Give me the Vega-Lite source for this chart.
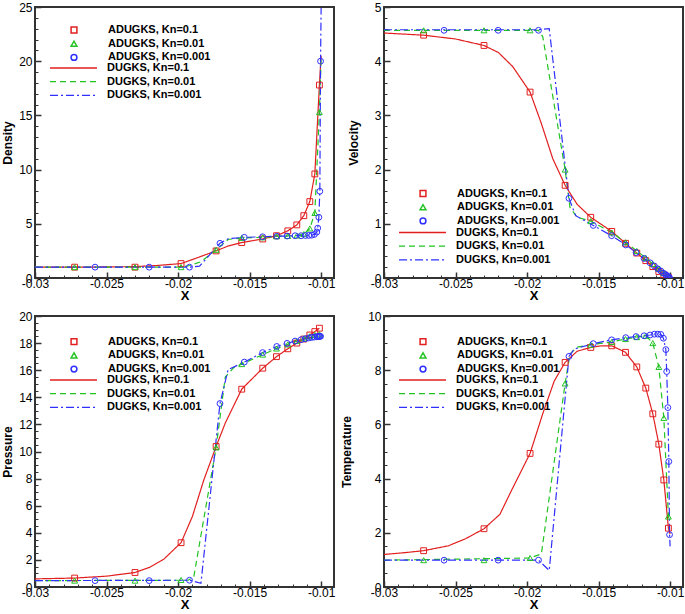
{
"$schema": "https://vega.github.io/schema/vega-lite/v6.json",
"background": "white",
"padding": {"left": 0, "top": 0, "right": 0, "bottom": 0},
"datasets": {
"dP": [
{"k":"0.1","x":-0.02723,"y":1.0},{"k":"0.1","x":-0.02301,"y":1.0},{"k":"0.1","x":-0.01979,"y":1.33},{"k":"0.1","x":-0.01734,"y":2.5},{"k":"0.1","x":-0.01555,"y":3.27},{"k":"0.1","x":-0.01408,"y":3.6},{"k":"0.1","x":-0.01312,"y":3.9},{"k":"0.1","x":-0.01233,"y":4.35},{"k":"0.1","x":-0.0117,"y":4.9},{"k":"0.1","x":-0.01121,"y":5.75},{"k":"0.1","x":-0.01079,"y":7.05},{"k":"0.1","x":-0.01044,"y":9.6},{"k":"0.1","x":-0.01012,"y":17.8},
{"k":"0.01","x":-0.02723,"y":1.0},{"k":"0.01","x":-0.02301,"y":1.0},{"k":"0.01","x":-0.01979,"y":1.0},{"k":"0.01","x":-0.01734,"y":2.6},{"k":"0.01","x":-0.01555,"y":3.7},{"k":"0.01","x":-0.01408,"y":3.75},{"k":"0.01","x":-0.01312,"y":3.85},{"k":"0.01","x":-0.01233,"y":3.88},{"k":"0.01","x":-0.0117,"y":3.92},{"k":"0.01","x":-0.01121,"y":4.05},{"k":"0.01","x":-0.01079,"y":4.57},{"k":"0.01","x":-0.01044,"y":6.0},{"k":"0.01","x":-0.01012,"y":15.3},
{"k":"0.001","x":-0.0258,"y":1.0},{"k":"0.001","x":-0.02202,"y":1.0},{"k":"0.001","x":-0.0192,"y":1.0},{"k":"0.001","x":-0.01707,"y":3.2},{"k":"0.001","x":-0.01537,"y":3.75},{"k":"0.001","x":-0.01409,"y":3.8},{"k":"0.001","x":-0.0131,"y":3.85},{"k":"0.001","x":-0.01238,"y":3.87},{"k":"0.001","x":-0.01182,"y":3.9},{"k":"0.001","x":-0.0114,"y":3.9},{"k":"0.001","x":-0.0111,"y":3.92},{"k":"0.001","x":-0.01086,"y":3.93},{"k":"0.001","x":-0.01065,"y":3.95},{"k":"0.001","x":-0.01047,"y":4.02},{"k":"0.001","x":-0.0103,"y":4.24},{"k":"0.001","x":-0.01024,"y":4.6},{"k":"0.001","x":-0.01016,"y":5.6},{"k":"0.001","x":-0.01009,"y":8.0},{"k":"0.001","x":-0.01004,"y":20.0}
],
"dL": [
{"k":"0.1","x":-0.03,"y":1.0},{"k":"0.1","x":-0.02723,"y":1.0},{"k":"0.1","x":-0.025,"y":1.02},{"k":"0.1","x":-0.02301,"y":1.05},{"k":"0.1","x":-0.0215,"y":1.15},{"k":"0.1","x":-0.01979,"y":1.33},{"k":"0.1","x":-0.0188,"y":1.8},{"k":"0.1","x":-0.01734,"y":2.5},{"k":"0.1","x":-0.0165,"y":2.95},{"k":"0.1","x":-0.01555,"y":3.27},{"k":"0.1","x":-0.01408,"y":3.6},{"k":"0.1","x":-0.01312,"y":3.9},{"k":"0.1","x":-0.01233,"y":4.35},{"k":"0.1","x":-0.0117,"y":4.9},{"k":"0.1","x":-0.01121,"y":5.75},{"k":"0.1","x":-0.01079,"y":7.05},{"k":"0.1","x":-0.01044,"y":9.6},{"k":"0.1","x":-0.01012,"y":17.8},{"k":"0.1","x":-0.01,"y":20.5},
{"k":"0.01","x":-0.03,"y":1.0},{"k":"0.01","x":-0.0198,"y":1.0},{"k":"0.01","x":-0.0192,"y":1.15},{"k":"0.01","x":-0.0184,"y":1.5},{"k":"0.01","x":-0.01734,"y":2.6},{"k":"0.01","x":-0.0165,"y":3.55},{"k":"0.01","x":-0.01555,"y":3.7},{"k":"0.01","x":-0.01408,"y":3.75},{"k":"0.01","x":-0.01312,"y":3.85},{"k":"0.01","x":-0.01233,"y":3.88},{"k":"0.01","x":-0.0117,"y":3.92},{"k":"0.01","x":-0.01121,"y":4.05},{"k":"0.01","x":-0.01079,"y":4.57},{"k":"0.01","x":-0.01044,"y":6.0},{"k":"0.01","x":-0.01012,"y":15.3},{"k":"0.01","x":-0.01,"y":20.3},
{"k":"0.001","x":-0.03,"y":1.0},{"k":"0.001","x":-0.0192,"y":1.0},{"k":"0.001","x":-0.0185,"y":1.1},{"k":"0.001","x":-0.01707,"y":3.2},{"k":"0.001","x":-0.0165,"y":3.62},{"k":"0.001","x":-0.01537,"y":3.75},{"k":"0.001","x":-0.01409,"y":3.8},{"k":"0.001","x":-0.0131,"y":3.85},{"k":"0.001","x":-0.01238,"y":3.87},{"k":"0.001","x":-0.01182,"y":3.9},{"k":"0.001","x":-0.0114,"y":3.9},{"k":"0.001","x":-0.0111,"y":3.92},{"k":"0.001","x":-0.01086,"y":3.93},{"k":"0.001","x":-0.01065,"y":3.95},{"k":"0.001","x":-0.01047,"y":4.02},{"k":"0.001","x":-0.0103,"y":4.24},{"k":"0.001","x":-0.01024,"y":4.6},{"k":"0.001","x":-0.01016,"y":5.6},{"k":"0.001","x":-0.01009,"y":8.0},{"k":"0.001","x":-0.01004,"y":20.0},{"k":"0.001","x":-0.01,"y":24.9}
],
"vP": [
{"k":"0.1","x":-0.02723,"y":4.48},{"k":"0.1","x":-0.02301,"y":4.29},{"k":"0.1","x":-0.01979,"y":3.43},{"k":"0.1","x":-0.01734,"y":1.71},{"k":"0.1","x":-0.01555,"y":1.12},{"k":"0.1","x":-0.01408,"y":0.86},{"k":"0.1","x":-0.01312,"y":0.64},{"k":"0.1","x":-0.01233,"y":0.46},{"k":"0.1","x":-0.0117,"y":0.32},{"k":"0.1","x":-0.01121,"y":0.21},{"k":"0.1","x":-0.01079,"y":0.12},{"k":"0.1","x":-0.01044,"y":0.06},{"k":"0.1","x":-0.01012,"y":0.01},
{"k":"0.01","x":-0.02723,"y":4.57},{"k":"0.01","x":-0.02301,"y":4.57},{"k":"0.01","x":-0.01979,"y":4.57},{"k":"0.01","x":-0.01734,"y":2.0},{"k":"0.01","x":-0.01555,"y":1.05},{"k":"0.01","x":-0.01408,"y":0.84},{"k":"0.01","x":-0.01312,"y":0.66},{"k":"0.01","x":-0.01233,"y":0.5},{"k":"0.01","x":-0.0117,"y":0.37},{"k":"0.01","x":-0.01121,"y":0.26},{"k":"0.01","x":-0.01079,"y":0.17},{"k":"0.01","x":-0.01044,"y":0.09},{"k":"0.01","x":-0.01012,"y":0.03},
{"k":"0.001","x":-0.0258,"y":4.57},{"k":"0.001","x":-0.02202,"y":4.57},{"k":"0.001","x":-0.0192,"y":4.57},{"k":"0.001","x":-0.01707,"y":1.47},{"k":"0.001","x":-0.01537,"y":0.97},{"k":"0.001","x":-0.01409,"y":0.78},{"k":"0.001","x":-0.0131,"y":0.61},{"k":"0.001","x":-0.01238,"y":0.47},{"k":"0.001","x":-0.01182,"y":0.36},{"k":"0.001","x":-0.0114,"y":0.28},{"k":"0.001","x":-0.0111,"y":0.22},{"k":"0.001","x":-0.01086,"y":0.17},{"k":"0.001","x":-0.01065,"y":0.13},{"k":"0.001","x":-0.01047,"y":0.09},{"k":"0.001","x":-0.0103,"y":0.06},{"k":"0.001","x":-0.01024,"y":0.045},{"k":"0.001","x":-0.01016,"y":0.03},{"k":"0.001","x":-0.01009,"y":0.015},{"k":"0.001","x":-0.01004,"y":0.005}
],
"vL": [
{"k":"0.1","x":-0.03,"y":4.52},{"k":"0.1","x":-0.02723,"y":4.48},{"k":"0.1","x":-0.025,"y":4.41},{"k":"0.1","x":-0.02301,"y":4.29},{"k":"0.1","x":-0.022,"y":4.16},{"k":"0.1","x":-0.021,"y":3.9},{"k":"0.1","x":-0.01979,"y":3.43},{"k":"0.1","x":-0.019,"y":2.85},{"k":"0.1","x":-0.0182,"y":2.2},{"k":"0.1","x":-0.01734,"y":1.71},{"k":"0.1","x":-0.0165,"y":1.36},{"k":"0.1","x":-0.01555,"y":1.12},{"k":"0.1","x":-0.01408,"y":0.86},{"k":"0.1","x":-0.01312,"y":0.64},{"k":"0.1","x":-0.01233,"y":0.46},{"k":"0.1","x":-0.0117,"y":0.32},{"k":"0.1","x":-0.01121,"y":0.21},{"k":"0.1","x":-0.01079,"y":0.12},{"k":"0.1","x":-0.01044,"y":0.06},{"k":"0.1","x":-0.01012,"y":0.01},{"k":"0.1","x":-0.01,"y":0.0},
{"k":"0.01","x":-0.03,"y":4.57},{"k":"0.01","x":-0.0192,"y":4.57},{"k":"0.01","x":-0.0189,"y":4.45},{"k":"0.01","x":-0.01734,"y":2.0},{"k":"0.01","x":-0.017,"y":1.3},{"k":"0.01","x":-0.0165,"y":1.12},{"k":"0.01","x":-0.01555,"y":1.05},{"k":"0.01","x":-0.01408,"y":0.84},{"k":"0.01","x":-0.01312,"y":0.66},{"k":"0.01","x":-0.01233,"y":0.5},{"k":"0.01","x":-0.0117,"y":0.37},{"k":"0.01","x":-0.01121,"y":0.26},{"k":"0.01","x":-0.01079,"y":0.17},{"k":"0.01","x":-0.01044,"y":0.09},{"k":"0.01","x":-0.01012,"y":0.03},{"k":"0.01","x":-0.01,"y":0.0},
{"k":"0.001","x":-0.03,"y":4.58},{"k":"0.001","x":-0.0192,"y":4.58},{"k":"0.001","x":-0.01845,"y":4.6},{"k":"0.001","x":-0.01707,"y":1.47},{"k":"0.001","x":-0.0166,"y":1.15},{"k":"0.001","x":-0.01537,"y":0.97},{"k":"0.001","x":-0.01409,"y":0.78},{"k":"0.001","x":-0.0131,"y":0.61},{"k":"0.001","x":-0.01238,"y":0.47},{"k":"0.001","x":-0.01182,"y":0.36},{"k":"0.001","x":-0.0114,"y":0.28},{"k":"0.001","x":-0.0111,"y":0.22},{"k":"0.001","x":-0.01086,"y":0.17},{"k":"0.001","x":-0.01065,"y":0.13},{"k":"0.001","x":-0.01047,"y":0.09},{"k":"0.001","x":-0.0103,"y":0.06},{"k":"0.001","x":-0.01024,"y":0.045},{"k":"0.001","x":-0.01016,"y":0.03},{"k":"0.001","x":-0.01009,"y":0.015},{"k":"0.001","x":-0.01004,"y":0.005},{"k":"0.001","x":-0.01,"y":0.0}
],
"pP": [
{"k":"0.1","x":-0.02723,"y":0.66},{"k":"0.1","x":-0.02301,"y":1.07},{"k":"0.1","x":-0.01979,"y":3.27},{"k":"0.1","x":-0.01734,"y":10.37},{"k":"0.1","x":-0.01555,"y":14.6},{"k":"0.1","x":-0.01408,"y":16.15},{"k":"0.1","x":-0.01312,"y":17.0},{"k":"0.1","x":-0.01233,"y":17.58},{"k":"0.1","x":-0.0117,"y":18.0},{"k":"0.1","x":-0.01121,"y":18.3},{"k":"0.1","x":-0.01079,"y":18.6},{"k":"0.1","x":-0.01044,"y":18.85},{"k":"0.1","x":-0.01012,"y":19.1},
{"k":"0.01","x":-0.02723,"y":0.47},{"k":"0.01","x":-0.02301,"y":0.47},{"k":"0.01","x":-0.01979,"y":0.52},{"k":"0.01","x":-0.01734,"y":10.3},{"k":"0.01","x":-0.01555,"y":16.45},{"k":"0.01","x":-0.01408,"y":17.15},{"k":"0.01","x":-0.01312,"y":17.6},{"k":"0.01","x":-0.01233,"y":17.9},{"k":"0.01","x":-0.0117,"y":18.15},{"k":"0.01","x":-0.01121,"y":18.35},{"k":"0.01","x":-0.01079,"y":18.5},{"k":"0.01","x":-0.01044,"y":18.6},{"k":"0.01","x":-0.01012,"y":18.65},
{"k":"0.001","x":-0.0258,"y":0.47},{"k":"0.001","x":-0.02202,"y":0.47},{"k":"0.001","x":-0.0192,"y":0.5},{"k":"0.001","x":-0.01707,"y":13.54},{"k":"0.001","x":-0.01537,"y":16.6},{"k":"0.001","x":-0.01409,"y":17.3},{"k":"0.001","x":-0.0131,"y":17.75},{"k":"0.001","x":-0.01238,"y":17.98},{"k":"0.001","x":-0.01182,"y":18.15},{"k":"0.001","x":-0.0114,"y":18.25},{"k":"0.001","x":-0.0111,"y":18.32},{"k":"0.001","x":-0.01086,"y":18.38},{"k":"0.001","x":-0.01065,"y":18.42},{"k":"0.001","x":-0.01047,"y":18.45},{"k":"0.001","x":-0.0103,"y":18.47},{"k":"0.001","x":-0.01024,"y":18.48},{"k":"0.001","x":-0.01016,"y":18.49},{"k":"0.001","x":-0.01009,"y":18.5},{"k":"0.001","x":-0.01004,"y":18.5}
],
"pL": [
{"k":"0.1","x":-0.03,"y":0.6},{"k":"0.1","x":-0.02723,"y":0.66},{"k":"0.1","x":-0.025,"y":0.8},{"k":"0.1","x":-0.02301,"y":1.07},{"k":"0.1","x":-0.022,"y":1.45},{"k":"0.1","x":-0.021,"y":2.05},{"k":"0.1","x":-0.01979,"y":3.27},{"k":"0.1","x":-0.019,"y":5.2},{"k":"0.1","x":-0.0182,"y":7.9},{"k":"0.1","x":-0.01734,"y":10.37},{"k":"0.1","x":-0.0167,"y":12.1},{"k":"0.1","x":-0.01555,"y":14.6},{"k":"0.1","x":-0.01408,"y":16.15},{"k":"0.1","x":-0.01312,"y":17.0},{"k":"0.1","x":-0.01233,"y":17.58},{"k":"0.1","x":-0.0117,"y":18.0},{"k":"0.1","x":-0.01121,"y":18.3},{"k":"0.1","x":-0.01079,"y":18.6},{"k":"0.1","x":-0.01044,"y":18.85},{"k":"0.1","x":-0.01012,"y":19.1},
{"k":"0.01","x":-0.03,"y":0.47},{"k":"0.01","x":-0.0193,"y":0.5},{"k":"0.01","x":-0.0189,"y":0.75},{"k":"0.01","x":-0.01734,"y":10.3},{"k":"0.01","x":-0.0167,"y":15.5},{"k":"0.01","x":-0.0161,"y":16.2},{"k":"0.01","x":-0.01555,"y":16.45},{"k":"0.01","x":-0.01408,"y":17.15},{"k":"0.01","x":-0.01312,"y":17.6},{"k":"0.01","x":-0.01233,"y":17.9},{"k":"0.01","x":-0.0117,"y":18.15},{"k":"0.01","x":-0.01121,"y":18.35},{"k":"0.01","x":-0.01079,"y":18.5},{"k":"0.01","x":-0.01044,"y":18.6},{"k":"0.01","x":-0.01012,"y":18.65},
{"k":"0.001","x":-0.03,"y":0.47},{"k":"0.001","x":-0.0192,"y":0.5},{"k":"0.001","x":-0.0184,"y":0.28},{"k":"0.001","x":-0.01707,"y":13.54},{"k":"0.001","x":-0.0165,"y":16.05},{"k":"0.001","x":-0.01537,"y":16.6},{"k":"0.001","x":-0.01409,"y":17.3},{"k":"0.001","x":-0.0131,"y":17.75},{"k":"0.001","x":-0.01238,"y":17.98},{"k":"0.001","x":-0.01182,"y":18.15},{"k":"0.001","x":-0.0114,"y":18.25},{"k":"0.001","x":-0.0111,"y":18.32},{"k":"0.001","x":-0.01086,"y":18.38},{"k":"0.001","x":-0.01065,"y":18.42},{"k":"0.001","x":-0.01047,"y":18.45},{"k":"0.001","x":-0.0103,"y":18.47},{"k":"0.001","x":-0.01024,"y":18.48},{"k":"0.001","x":-0.01016,"y":18.49},{"k":"0.001","x":-0.01009,"y":18.5},{"k":"0.001","x":-0.01004,"y":18.5}
],
"tP": [
{"k":"0.1","x":-0.02723,"y":1.34},{"k":"0.1","x":-0.02301,"y":2.15},{"k":"0.1","x":-0.01979,"y":4.93},{"k":"0.1","x":-0.01734,"y":8.29},{"k":"0.1","x":-0.01555,"y":8.84},{"k":"0.1","x":-0.01408,"y":8.9},{"k":"0.1","x":-0.01312,"y":8.66},{"k":"0.1","x":-0.01233,"y":8.12},{"k":"0.1","x":-0.0117,"y":7.34},{"k":"0.1","x":-0.01121,"y":6.39},{"k":"0.1","x":-0.01079,"y":5.27},{"k":"0.1","x":-0.01044,"y":3.95},{"k":"0.1","x":-0.01012,"y":2.17},
{"k":"0.01","x":-0.02723,"y":0.99},{"k":"0.01","x":-0.02301,"y":0.99},{"k":"0.01","x":-0.01979,"y":1.07},{"k":"0.01","x":-0.01734,"y":7.51},{"k":"0.01","x":-0.01555,"y":8.94},{"k":"0.01","x":-0.01408,"y":9.04},{"k":"0.01","x":-0.01312,"y":9.15},{"k":"0.01","x":-0.01233,"y":9.22},{"k":"0.01","x":-0.0117,"y":9.27},{"k":"0.01","x":-0.01121,"y":9.0},{"k":"0.01","x":-0.01079,"y":8.12},{"k":"0.01","x":-0.01044,"y":6.24},{"k":"0.01","x":-0.01012,"y":2.6},
{"k":"0.001","x":-0.0258,"y":0.99},{"k":"0.001","x":-0.02202,"y":0.99},{"k":"0.001","x":-0.0192,"y":0.99},{"k":"0.001","x":-0.01707,"y":8.51},{"k":"0.001","x":-0.01537,"y":8.98},{"k":"0.001","x":-0.01409,"y":9.12},{"k":"0.001","x":-0.0131,"y":9.2},{"k":"0.001","x":-0.01238,"y":9.24},{"k":"0.001","x":-0.01182,"y":9.27},{"k":"0.001","x":-0.0114,"y":9.3},{"k":"0.001","x":-0.0111,"y":9.33},{"k":"0.001","x":-0.01086,"y":9.33},{"k":"0.001","x":-0.01065,"y":9.32},{"k":"0.001","x":-0.01047,"y":9.18},{"k":"0.001","x":-0.0103,"y":8.76},{"k":"0.001","x":-0.01024,"y":7.95},{"k":"0.001","x":-0.01016,"y":6.62},{"k":"0.001","x":-0.01009,"y":4.63},{"k":"0.001","x":-0.01004,"y":1.93}
],
"tL": [
{"k":"0.1","x":-0.03,"y":1.2},{"k":"0.1","x":-0.0285,"y":1.27},{"k":"0.1","x":-0.02723,"y":1.34},{"k":"0.1","x":-0.0255,"y":1.52},{"k":"0.1","x":-0.0243,"y":1.78},{"k":"0.1","x":-0.02301,"y":2.15},{"k":"0.1","x":-0.0219,"y":2.68},{"k":"0.1","x":-0.0211,"y":3.55},{"k":"0.1","x":-0.01979,"y":4.93},{"k":"0.1","x":-0.0189,"y":6.4},{"k":"0.1","x":-0.0181,"y":7.6},{"k":"0.1","x":-0.01734,"y":8.29},{"k":"0.1","x":-0.0165,"y":8.7},{"k":"0.1","x":-0.01555,"y":8.84},{"k":"0.1","x":-0.0148,"y":8.9},{"k":"0.1","x":-0.01408,"y":8.9},{"k":"0.1","x":-0.01312,"y":8.66},{"k":"0.1","x":-0.01233,"y":8.12},{"k":"0.1","x":-0.0117,"y":7.34},{"k":"0.1","x":-0.01121,"y":6.39},{"k":"0.1","x":-0.01079,"y":5.27},{"k":"0.1","x":-0.01044,"y":3.95},{"k":"0.1","x":-0.01012,"y":2.17},{"k":"0.1","x":-0.01,"y":1.95},
{"k":"0.01","x":-0.03,"y":0.99},{"k":"0.01","x":-0.01979,"y":1.07},{"k":"0.01","x":-0.019,"y":1.22},{"k":"0.01","x":-0.01734,"y":7.51},{"k":"0.01","x":-0.017,"y":8.6},{"k":"0.01","x":-0.0165,"y":8.85},{"k":"0.01","x":-0.01555,"y":8.94},{"k":"0.01","x":-0.01408,"y":9.04},{"k":"0.01","x":-0.01312,"y":9.15},{"k":"0.01","x":-0.01233,"y":9.22},{"k":"0.01","x":-0.0117,"y":9.27},{"k":"0.01","x":-0.01121,"y":9.0},{"k":"0.01","x":-0.01079,"y":8.12},{"k":"0.01","x":-0.01044,"y":6.24},{"k":"0.01","x":-0.01012,"y":2.6},{"k":"0.01","x":-0.01,"y":2.4},
{"k":"0.001","x":-0.03,"y":0.99},{"k":"0.001","x":-0.0192,"y":0.99},{"k":"0.001","x":-0.01845,"y":0.61},{"k":"0.001","x":-0.01707,"y":8.51},{"k":"0.001","x":-0.0167,"y":8.78},{"k":"0.001","x":-0.01537,"y":8.98},{"k":"0.001","x":-0.01409,"y":9.12},{"k":"0.001","x":-0.0131,"y":9.2},{"k":"0.001","x":-0.01238,"y":9.24},{"k":"0.001","x":-0.01182,"y":9.27},{"k":"0.001","x":-0.0114,"y":9.3},{"k":"0.001","x":-0.0111,"y":9.33},{"k":"0.001","x":-0.01086,"y":9.33},{"k":"0.001","x":-0.01065,"y":9.32},{"k":"0.001","x":-0.01047,"y":9.18},{"k":"0.001","x":-0.0103,"y":8.76},{"k":"0.001","x":-0.01024,"y":7.95},{"k":"0.001","x":-0.01016,"y":6.62},{"k":"0.001","x":-0.01009,"y":4.63},{"k":"0.001","x":-0.01004,"y":1.93},{"k":"0.001","x":-0.01,"y":1.5}
]
},
"columns": 2,
"spacing": {"row": 38, "column": 50},
"bounds": "flush",
"concat": [
{
"width": 299, "height": 271,
"layer": [
{"data": {"name": "dL"}, "mark": {"type": "line", "strokeWidth": 1.2, "clip": true},
"encoding": {
"x": {"field": "x", "type": "quantitative", "scale": {"domain": [-0.03, -0.0091], "nice": false, "zero": false}, "axis": {"orient": "bottom", "values": [-0.03,-0.029,-0.028,-0.027,-0.026,-0.025,-0.024,-0.023,-0.022,-0.021,-0.02,-0.019,-0.018,-0.017,-0.016,-0.015,-0.014,-0.013,-0.012,-0.011,-0.01], "tickSize": -3, "tickWidth": 1, "labels": false, "title": null}},
"y": {"field": "y", "type": "quantitative", "scale": {"domain": [0, 25], "nice": false, "zero": false}, "axis": {"orient": "left", "values": [0,1,2,3,4,5,6,7,8,9,10,11,12,13,14,15,16,17,18,19,20,21,22,23,24,25], "tickSize": -3, "tickWidth": 1, "labels": false, "title": null}},
"color": {"field": "k", "type": "nominal", "scale": {"domain": ["0.1","0.01","0.001"], "range": ["#e11f1f","#22c322","#2f2fff"]}, "legend": {"title": null, "legendX": 14, "legendY": 55.5, "labelOffset": 9, "symbolSize": 2209, "symbolStrokeWidth": 1.3, "labelExpr": "'DUGKS, Kn=' + datum.label"}},
"strokeDash": {"field": "k", "type": "nominal", "scale": {"domain": ["0.1","0.01","0.001"], "range": [[1,0],[6,4],[8,3,2,3]]}, "legend": {"title": null, "legendX": 14, "legendY": 55.5, "labelOffset": 9, "symbolSize": 2209, "symbolStrokeWidth": 1.3, "labelExpr": "'DUGKS, Kn=' + datum.label"}}
}},
{"data": {"name": "dP"}, "mark": {"type": "point", "filled": false, "strokeWidth": 1, "opacity": 1, "clip": true},
"encoding": {
"x": {"field": "x", "type": "quantitative", "scale": {"domain": [-0.03, -0.0091], "nice": false, "zero": false}, "axis": {"orient": "bottom", "values": [-0.03,-0.025,-0.02,-0.015,-0.01], "labelExpr": "datum.value", "title": "X", "titleFontSize": 13, "titlePadding": 0}},
"y": {"field": "y", "type": "quantitative", "scale": {"domain": [0, 25], "nice": false, "zero": false}, "axis": {"orient": "left", "values": [0,5,10,15,20,25], "title": "Density", "titlePadding": 4}},
"color": {"field": "k", "type": "nominal", "scale": {"domain": ["0.1","0.01","0.001"], "range": ["#e11f1f","#22c322","#2f2fff"]}, "legend": {"title": null, "legendX": 33.5, "legendY": 17.5, "labelOffset": 28.5, "labelExpr": "'ADUGKS, Kn=' + datum.label"}},
"shape": {"field": "k", "type": "nominal", "scale": {"domain": ["0.1","0.01","0.001"], "range": ["square","triangle-up","circle"]}, "legend": {"title": null, "legendX": 33.5, "legendY": 17.5, "labelOffset": 28.5, "labelExpr": "'ADUGKS, Kn=' + datum.label"}},
"size": {"field": "k", "type": "nominal", "scale": {"domain": ["0.1","0.01","0.001"], "range": [34,34,60]}, "legend": {"title": null, "legendX": 33.5, "legendY": 17.5, "labelOffset": 28.5, "labelExpr": "'ADUGKS, Kn=' + datum.label"}}
}}
],
"resolve": {"scale": {"color": "independent", "shape": "independent", "size": "independent", "strokeDash": "independent"}, "axis": {"x": "independent", "y": "independent"}}
},
{
"width": 299, "height": 271,
"layer": [
{"data": {"name": "vL"}, "mark": {"type": "line", "strokeWidth": 1.2, "clip": true},
"encoding": {
"x": {"field": "x", "type": "quantitative", "scale": {"domain": [-0.03, -0.0091], "nice": false, "zero": false}, "axis": {"orient": "bottom", "values": [-0.03,-0.029,-0.028,-0.027,-0.026,-0.025,-0.024,-0.023,-0.022,-0.021,-0.02,-0.019,-0.018,-0.017,-0.016,-0.015,-0.014,-0.013,-0.012,-0.011,-0.01], "tickSize": -3, "tickWidth": 1, "labels": false, "title": null}},
"y": {"field": "y", "type": "quantitative", "scale": {"domain": [0, 5], "nice": false, "zero": false}, "axis": {"orient": "left", "values": [0,0.2,0.4,0.6,0.8,1,1.2,1.4,1.6,1.8,2,2.2,2.4,2.6,2.8,3,3.2,3.4,3.6,3.8,4,4.2,4.4,4.6,4.8,5], "tickSize": -3, "tickWidth": 1, "labels": false, "title": null}},
"color": {"field": "k", "type": "nominal", "scale": {"domain": ["0.1","0.01","0.001"], "range": ["#e11f1f","#22c322","#2f2fff"]}, "legend": {"title": null, "legendX": 14, "legendY": 220, "labelOffset": 9, "symbolSize": 2209, "symbolStrokeWidth": 1.3, "labelExpr": "'DUGKS, Kn=' + datum.label"}},
"strokeDash": {"field": "k", "type": "nominal", "scale": {"domain": ["0.1","0.01","0.001"], "range": [[1,0],[6,4],[8,3,2,3]]}, "legend": {"title": null, "legendX": 14, "legendY": 220, "labelOffset": 9, "symbolSize": 2209, "symbolStrokeWidth": 1.3, "labelExpr": "'DUGKS, Kn=' + datum.label"}}
}},
{"data": {"name": "vP"}, "mark": {"type": "point", "filled": false, "strokeWidth": 1, "opacity": 1, "clip": true},
"encoding": {
"x": {"field": "x", "type": "quantitative", "scale": {"domain": [-0.03, -0.0091], "nice": false, "zero": false}, "axis": {"orient": "bottom", "values": [-0.03,-0.025,-0.02,-0.015,-0.01], "labelExpr": "datum.value", "title": "X", "titleFontSize": 13, "titlePadding": 0}},
"y": {"field": "y", "type": "quantitative", "scale": {"domain": [0, 5], "nice": false, "zero": false}, "axis": {"orient": "left", "values": [0,1,2,3,4,5], "title": "Velocity", "titlePadding": 14}},
"color": {"field": "k", "type": "nominal", "scale": {"domain": ["0.1","0.01","0.001"], "range": ["#e11f1f","#22c322","#2f2fff"]}, "legend": {"title": null, "legendX": 33.5, "legendY": 181, "labelOffset": 28.5, "labelExpr": "'ADUGKS, Kn=' + datum.label"}},
"shape": {"field": "k", "type": "nominal", "scale": {"domain": ["0.1","0.01","0.001"], "range": ["square","triangle-up","circle"]}, "legend": {"title": null, "legendX": 33.5, "legendY": 181, "labelOffset": 28.5, "labelExpr": "'ADUGKS, Kn=' + datum.label"}},
"size": {"field": "k", "type": "nominal", "scale": {"domain": ["0.1","0.01","0.001"], "range": [34,34,60]}, "legend": {"title": null, "legendX": 33.5, "legendY": 181, "labelOffset": 28.5, "labelExpr": "'ADUGKS, Kn=' + datum.label"}}
}}
],
"resolve": {"scale": {"color": "independent", "shape": "independent", "size": "independent", "strokeDash": "independent"}, "axis": {"x": "independent", "y": "independent"}}
},
{
"width": 299, "height": 271,
"layer": [
{"data": {"name": "pL"}, "mark": {"type": "line", "strokeWidth": 1.2, "clip": true},
"encoding": {
"x": {"field": "x", "type": "quantitative", "scale": {"domain": [-0.03, -0.0091], "nice": false, "zero": false}, "axis": {"orient": "bottom", "values": [-0.03,-0.029,-0.028,-0.027,-0.026,-0.025,-0.024,-0.023,-0.022,-0.021,-0.02,-0.019,-0.018,-0.017,-0.016,-0.015,-0.014,-0.013,-0.012,-0.011,-0.01], "tickSize": -3, "tickWidth": 1, "labels": false, "title": null}},
"y": {"field": "y", "type": "quantitative", "scale": {"domain": [0, 20], "nice": false, "zero": false}, "axis": {"orient": "left", "values": [0,0.5,1,1.5,2,2.5,3,3.5,4,4.5,5,5.5,6,6.5,7,7.5,8,8.5,9,9.5,10,10.5,11,11.5,12,12.5,13,13.5,14,14.5,15,15.5,16,16.5,17,17.5,18,18.5,19,19.5,20], "tickSize": -3, "tickWidth": 1, "labels": false, "title": null}},
"color": {"field": "k", "type": "nominal", "scale": {"domain": ["0.1","0.01","0.001"], "range": ["#e11f1f","#22c322","#2f2fff"]}, "legend": {"title": null, "legendX": 14, "legendY": 58.5, "labelOffset": 9, "symbolSize": 2209, "symbolStrokeWidth": 1.3, "labelExpr": "'DUGKS, Kn=' + datum.label"}},
"strokeDash": {"field": "k", "type": "nominal", "scale": {"domain": ["0.1","0.01","0.001"], "range": [[1,0],[6,4],[8,3,2,3]]}, "legend": {"title": null, "legendX": 14, "legendY": 58.5, "labelOffset": 9, "symbolSize": 2209, "symbolStrokeWidth": 1.3, "labelExpr": "'DUGKS, Kn=' + datum.label"}}
}},
{"data": {"name": "pP"}, "mark": {"type": "point", "filled": false, "strokeWidth": 1, "opacity": 1, "clip": true},
"encoding": {
"x": {"field": "x", "type": "quantitative", "scale": {"domain": [-0.03, -0.0091], "nice": false, "zero": false}, "axis": {"orient": "bottom", "values": [-0.03,-0.025,-0.02,-0.015,-0.01], "labelExpr": "datum.value", "title": "X", "titleFontSize": 13, "titlePadding": 0}},
"y": {"field": "y", "type": "quantitative", "scale": {"domain": [0, 20], "nice": false, "zero": false}, "axis": {"orient": "left", "values": [0,2,4,6,8,10,12,14,16,18,20], "title": "Pressure", "titlePadding": 4}},
"color": {"field": "k", "type": "nominal", "scale": {"domain": ["0.1","0.01","0.001"], "range": ["#e11f1f","#22c322","#2f2fff"]}, "legend": {"title": null, "legendX": 33.5, "legendY": 20.2, "labelOffset": 28.5, "labelExpr": "'ADUGKS, Kn=' + datum.label"}},
"shape": {"field": "k", "type": "nominal", "scale": {"domain": ["0.1","0.01","0.001"], "range": ["square","triangle-up","circle"]}, "legend": {"title": null, "legendX": 33.5, "legendY": 20.2, "labelOffset": 28.5, "labelExpr": "'ADUGKS, Kn=' + datum.label"}},
"size": {"field": "k", "type": "nominal", "scale": {"domain": ["0.1","0.01","0.001"], "range": [34,34,60]}, "legend": {"title": null, "legendX": 33.5, "legendY": 20.2, "labelOffset": 28.5, "labelExpr": "'ADUGKS, Kn=' + datum.label"}}
}}
],
"resolve": {"scale": {"color": "independent", "shape": "independent", "size": "independent", "strokeDash": "independent"}, "axis": {"x": "independent", "y": "independent"}}
},
{
"width": 299, "height": 271,
"layer": [
{"data": {"name": "tL"}, "mark": {"type": "line", "strokeWidth": 1.2, "clip": true},
"encoding": {
"x": {"field": "x", "type": "quantitative", "scale": {"domain": [-0.03, -0.0091], "nice": false, "zero": false}, "axis": {"orient": "bottom", "values": [-0.03,-0.029,-0.028,-0.027,-0.026,-0.025,-0.024,-0.023,-0.022,-0.021,-0.02,-0.019,-0.018,-0.017,-0.016,-0.015,-0.014,-0.013,-0.012,-0.011,-0.01], "tickSize": -3, "tickWidth": 1, "labels": false, "title": null}},
"y": {"field": "y", "type": "quantitative", "scale": {"domain": [0, 10], "nice": false, "zero": false}, "axis": {"orient": "left", "values": [0,0.5,1,1.5,2,2.5,3,3.5,4,4.5,5,5.5,6,6.5,7,7.5,8,8.5,9,9.5,10], "tickSize": -3, "tickWidth": 1, "labels": false, "title": null}},
"color": {"field": "k", "type": "nominal", "scale": {"domain": ["0.1","0.01","0.001"], "range": ["#e11f1f","#22c322","#2f2fff"]}, "legend": {"title": null, "legendX": 14, "legendY": 58.5, "labelOffset": 9, "symbolSize": 2209, "symbolStrokeWidth": 1.3, "labelExpr": "'DUGKS, Kn=' + datum.label"}},
"strokeDash": {"field": "k", "type": "nominal", "scale": {"domain": ["0.1","0.01","0.001"], "range": [[1,0],[6,4],[8,3,2,3]]}, "legend": {"title": null, "legendX": 14, "legendY": 58.5, "labelOffset": 9, "symbolSize": 2209, "symbolStrokeWidth": 1.3, "labelExpr": "'DUGKS, Kn=' + datum.label"}}
}},
{"data": {"name": "tP"}, "mark": {"type": "point", "filled": false, "strokeWidth": 1, "opacity": 1, "clip": true},
"encoding": {
"x": {"field": "x", "type": "quantitative", "scale": {"domain": [-0.03, -0.0091], "nice": false, "zero": false}, "axis": {"orient": "bottom", "values": [-0.03,-0.025,-0.02,-0.015,-0.01], "labelExpr": "datum.value", "title": "X", "titleFontSize": 13, "titlePadding": 0}},
"y": {"field": "y", "type": "quantitative", "scale": {"domain": [0, 10], "nice": false, "zero": false}, "axis": {"orient": "left", "values": [0,2,4,6,8,10], "title": "Temperature", "titlePadding": 14}},
"color": {"field": "k", "type": "nominal", "scale": {"domain": ["0.1","0.01","0.001"], "range": ["#e11f1f","#22c322","#2f2fff"]}, "legend": {"title": null, "legendX": 33.5, "legendY": 20.2, "labelOffset": 28.5, "labelExpr": "'ADUGKS, Kn=' + datum.label"}},
"shape": {"field": "k", "type": "nominal", "scale": {"domain": ["0.1","0.01","0.001"], "range": ["square","triangle-up","circle"]}, "legend": {"title": null, "legendX": 33.5, "legendY": 20.2, "labelOffset": 28.5, "labelExpr": "'ADUGKS, Kn=' + datum.label"}},
"size": {"field": "k", "type": "nominal", "scale": {"domain": ["0.1","0.01","0.001"], "range": [34,34,60]}, "legend": {"title": null, "legendX": 33.5, "legendY": 20.2, "labelOffset": 28.5, "labelExpr": "'ADUGKS, Kn=' + datum.label"}}
}}
],
"resolve": {"scale": {"color": "independent", "shape": "independent", "size": "independent", "strokeDash": "independent"}, "axis": {"x": "independent", "y": "independent"}}
}
],
"resolve": {"scale": {"color": "independent", "shape": "independent", "size": "independent", "strokeDash": "independent"}},
"config": {
"font": "Liberation Sans",
"view": {"stroke": "#333", "strokeWidth": 2},
"axis": {"grid": false, "domain": false, "tickColor": "#333", "tickWidth": 1.5, "tickSize": -6, "labelPadding": 6, "labelFontSize": 12, "labelColor": "#000", "labelFlush": false, "labelOverlap": false, "titleFontSize": 12, "titleFontWeight": "bold", "titleColor": "#000"},
"axisY": {"labelPadding": 9},
"legend": {"orient": "none", "labelFontSize": 11, "labelFontWeight": "bold", "labelColor": "#000", "rowPadding": 1.7, "padding": 0, "clipHeight": 11}
}
}
